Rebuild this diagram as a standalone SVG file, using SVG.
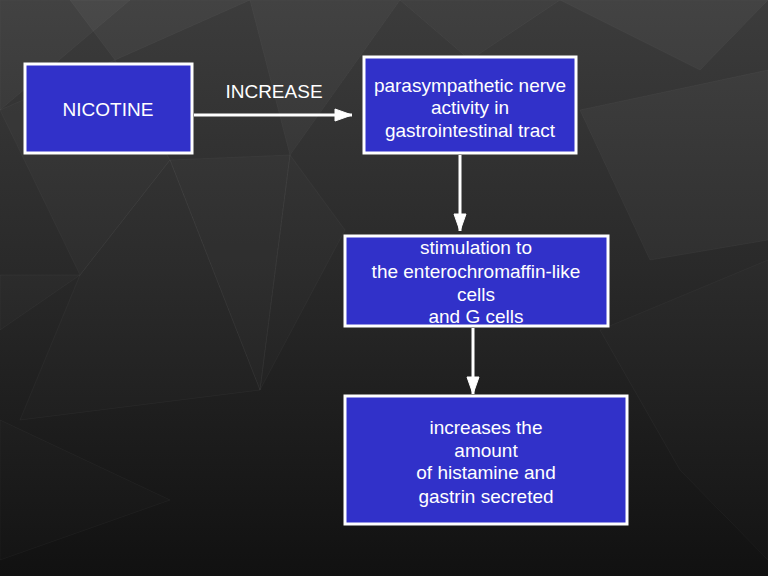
<svg xmlns="http://www.w3.org/2000/svg" width="768" height="576" viewBox="0 0 768 576">
<defs>
<linearGradient id="bg" x1="0" y1="0" x2="0" y2="1">
<stop offset="0" stop-color="#3c3c3c"/>
<stop offset="0.45" stop-color="#2a2a2a"/>
<stop offset="1" stop-color="#111111"/>
</linearGradient>
<marker id="ah" markerWidth="20" markerHeight="14" refX="18" refY="7" orient="auto" markerUnits="userSpaceOnUse">
<path d="M1,1 L18,7 L1,13 Z" fill="#ffffff" stroke="#ffffff" stroke-width="1"/>
</marker>
<style>
.bg-tri{fill:#ffffff;stroke:#ffffff;stroke-opacity:0.035;}
.node rect{fill:#3131c9;stroke:#ffffff;stroke-width:3;}
.node text{fill:#ffffff;font-family:"Liberation Sans",Arial,sans-serif;font-size:19px;text-anchor:middle;}
.lbl{fill:#ffffff;font-family:"Liberation Sans",Arial,sans-serif;font-size:19px;text-anchor:middle;}
.conn{stroke:#ffffff;stroke-width:3;fill:none;}
</style>
</defs>
<rect width="768" height="576" fill="url(#bg)"/>
<g id="background">
<polygon class="bg-tri" fill-opacity="0.03" points="0,0 130,0 0,110"/>
<polygon class="bg-tri" fill-opacity="0.04" points="70,0 250,0 115,60"/>
<polygon class="bg-tri" fill-opacity="0.03" points="250,0 400,0 290,155"/>
<polygon class="bg-tri" fill-opacity="0.025" points="400,0 560,0 470,60"/>
<polygon class="bg-tri" fill-opacity="0.04" points="560,0 768,0 700,70"/>
<polygon class="bg-tri" fill-opacity="0.02" points="0,110 115,60 170,160 80,275"/>
<polygon class="bg-tri" fill-opacity="0.025" points="170,160 290,155 260,390"/>
<polygon class="bg-tri" fill-opacity="0.015" points="290,155 345,230 260,390"/>
<polygon class="bg-tri" fill-opacity="0.03" points="580,110 768,70 768,240 650,260"/>
<polygon class="bg-tri" fill-opacity="0.015" points="0,275 80,275 0,330"/>
<polygon class="bg-tri" fill-opacity="0.012" points="80,275 170,160 260,390 20,420"/>
<polygon class="bg-tri" fill-opacity="0.01" points="600,330 768,260 768,560 680,470"/>
<polygon class="bg-tri" fill-opacity="0.01" points="0,420 170,500 0,560"/>
</g>
<g id="connectors">
<line class="conn" x1="194" y1="115" x2="352" y2="115" marker-end="url(#ah)"/>
<line class="conn" x1="460" y1="155" x2="460" y2="231" marker-end="url(#ah)"/>
<line class="conn" x1="473" y1="328" x2="473" y2="394" marker-end="url(#ah)"/>
<text class="lbl" x="274" y="98">INCREASE</text>
</g>
<g id="nicotine" class="node">
<rect x="25" y="64" width="167" height="89"/>
<text x="108" y="116">NICOTINE</text>
</g>
<g id="parasympathetic" class="node">
<rect x="364" y="57" width="212" height="96"/>
<text x="470" y="92">parasympathetic nerve</text>
<text x="470" y="114">activity in</text>
<text x="470" y="137">gastrointestinal tract</text>
</g>
<g id="stimulation" class="node">
<rect x="345" y="236" width="263" height="90"/>
<text x="476" y="254">stimulation to</text>
<text x="476" y="278">the enterochromaffin-like</text>
<text x="476" y="301">cells</text>
<text x="476" y="323">and G cells</text>
</g>
<g id="increases" class="node">
<rect x="345" y="396" width="282" height="128"/>
<text x="486" y="434">increases the</text>
<text x="486" y="457">amount</text>
<text x="486" y="479">of histamine and</text>
<text x="486" y="503">gastrin secreted</text>
</g>
</svg>
